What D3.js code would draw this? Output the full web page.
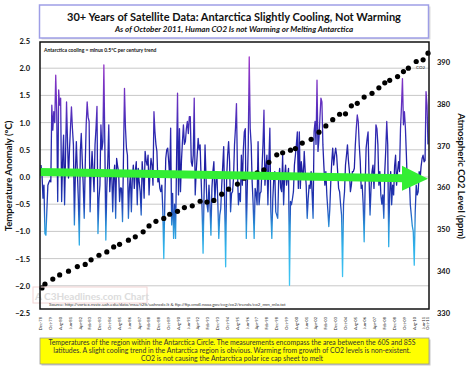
<!DOCTYPE html>
<html>
<head>
<meta charset="utf-8">
<script src="https://cdn.jsdelivr.net/npm/d3@7"></script>
<style>
  body { margin: 0; background: #fff; }
  svg { display: block; font-family: Lato, "Open Sans", sans-serif; }
</style>
</head>
<body>
<div id="chart"></div>
<script>
// month labels along the bottom (every 10 months, plus the last month)
const monthLabels = ["Dec-78","Oct-79","Aug-80","Jun-81","Apr-82","Feb-83","Dec-83","Oct-84","Aug-85","Jun-86",
  "Apr-87","Feb-88","Dec-88","Oct-89","Aug-90","Jun-91","Apr-92","Feb-93","Dec-93","Oct-94",
  "Aug-95","Jun-96","Apr-97","Feb-98","Dec-98","Oct-99","Aug-00","Jun-01","Apr-02","Feb-03",
  "Dec-03","Oct-04","Aug-05","Jun-06","Apr-07","Feb-08","Dec-08","Oct-09","Aug-10","Jun-11","Oct-11"];

// monthly Antarctic temperature anomaly (°C), Dec 1978 .. Oct 2011
const tempAnomaly = [
  0.22, 0.05, -0.39, -0.15, -1.04, -1.07, -0.6, -0.15, -0.1, -0.06,
  -0.09, 1.32, 0.86, 1.2, 1.0, 1.87, 1.2, -0.45, 1.6, 1.32,
  1.45, -0.45, 0.3, 0.77, -0.51, 0.4, 1.38, 0.65, -0.02, 0.5,
  0.9, 1.29, 0.89, 0.59, -0.88, 0.1, 0.65, 0.1, -0.4, -1.25,
  0.47, 0.8, 0.3, -0.15, -0.76, 0.2, 0.96, 1.38, 1.1, 1.02,
  -0.64, 0.1, 0.47, 0.1, -0.27, 0.59, 0.9, 1.3, -1.04, -0.4,
  -0.15, 0.96, 0.5, 0.65, 2.06, 0.59, -1.16, -0.2, 0.28, 0.96,
  -0.27, 0.1, 0.1, -0.64, 0.0, 0.22, -0.76, 0.34, 0.2, 0.1,
  -0.45, -0.2, -0.21, -0.82, 0.4, 1.63, 0.9, 0.53, 0.4, -0.76,
  -0.2, 0.04, -0.64, 0.0, 0.22, -0.21, 0.1, 0.28, -0.51, 0.16,
  -0.1, -0.27, -0.7, 0.28, 0.0, -0.39, 0.47, 0.3, 0.22, 0.4,
  -0.33, 0.1, 0.34, 0.22, -0.15, 1.2, 0.83, 0.6, 0.47, -0.09,
  0.0, -0.21, -0.27, -0.15, -0.6, -1.5, -0.51, 0.34, 0.5, 0.53,
  0.28, 0.0, 0.9, -0.88, -0.3, -1.13, -0.5, -1.13, 0.3, 1.54,
  -0.33, 0.89, -0.27, 0.3, 0.65, 0.96, 0.6, 0.65, 0.89, 1.02,
  0.8, 1.11, 1.11, 0.28, 0.2, 0.4, 1.45, -0.33, 0.1, 0.4,
  0.71, 0.5, 0.59, -0.02, -0.6, -1.4, -0.33, 0.59, 0.0, -0.51,
  -0.64, -0.15, -0.5, -1.07, -0.21, 0.1, 0.28, -0.45, -0.1, 0.1,
  -0.45, -1.13, -0.7, -0.58, -0.15, 0.2, 0.56, -0.51, -1.65, -0.02,
  0.4, 0.65, 0.28, -0.64, -0.3, -0.27, -0.02, 0.59, 0.9, 1.35,
  0.1, -0.51, -0.3, -0.45, 0.4, -0.15, 0.5, 0.83, 0.89, -1.13,
  -0.2, 0.59, 2.21, 0.89, 0.59, -0.1, -0.51, -1.13, -0.21, -0.3,
  -0.51, 0.65, -0.51, -0.3, -0.27, 0.16, 0.6, 1.23, -0.15, 0.2,
  0.4, -0.51, 0.3, 0.9, -0.64, -1.13, -0.4, -0.02, 0.1, -0.64,
  -0.7, -0.76, -0.02, 0.16, -0.2, -0.27, 0.4, -0.51, 0.0, 0.22,
  -0.15, 0.0, 0.16, -1.99, -0.45, -0.51, -0.4, -0.27, 0.22, 0.4,
  0.6, 0.83, -0.21, 0.83, -0.21, 0.28, 0.1, -0.02, 0.47, 0.1,
  -0.15, -0.76, -0.4, -0.15, -0.21, 0.1, -0.3, -0.76, 0.83, 1.02,
  0.6, 1.78, 0.47, 0.71, 1.1, 1.45, 1.38, 0.59, 0.2, -0.15,
  0.1, -0.33, -0.6, -0.91, -0.6, -0.1, 0.28, 0.53, 0.22, 0.4,
  0.53, 0.4, 0.1, -0.21, -0.27, -0.5, -0.7, -1.83, -0.5, -0.27,
  0.22, 0.4, 0.59, 0.3, 0.1, -0.27, -0.15, 0.1, 0.1, 0.16,
  0.59, 0.9, 1.14, 1.02, 0.59, 0.3, -0.21, -0.15, -0.5, -1.19,
  -0.15, 0.53, 0.7, 0.83, -0.02, -0.7, -0.2, 0.1, 0.22, -0.21,
  0.3, 0.96, 0.89, 0.59, -0.15, 0.1, -0.33, -0.5, -0.33, -0.76,
  0.1, 0.5, 1.02, 0.59, -1.28, -0.3, 0.1, -0.51, -0.15, -0.33,
  0.2, 0.4, -0.15, 0.1, 0.28, 0.1, 0.89, 1.3, 1.81, 0.96,
  1.2, 0.9, 0.4, -0.15, 0.1, 0.0, -0.51, -0.7, -0.9, -1.0,
  -1.62, -0.64, -0.15, -0.33, -0.27, 0.1, -0.02, 0.2, 0.34, 0.4,
  0.28, 0.3, 1.57, 1.32, 0.6
];

// CO2 dots: month offset from Dec-78 and ppm
const co2Months = [1, 4, 12, 19, 28, 37, 45, 51, 59, 67, 74, 80, 89, 96, 104, 110, 117, 125, 131,
  139, 146, 154, 162, 169, 176, 184, 191, 200, 207, 214, 220, 227, 232, 240, 246, 254, 259,
  266, 275, 283, 290, 297, 304, 310, 316, 322, 329, 337, 344, 350, 355, 363, 369, 374, 382, 389, 394];
const co2Ppm = [336.0, 336.9, 338.1, 339.1, 340.0, 341.1, 341.6, 342.7, 343.8, 344.6, 345.8, 346.4, 347.4, 348.2, 349.4, 350.8, 351.9, 352.6, 353.6,
  354.3, 355.2, 355.6, 356.7, 356.5, 356.9, 358.4, 359.6, 360.8, 362.2, 363.0, 363.5, 364.2, 366.0, 367.8, 368.3, 368.9, 369.3,
  370.6, 371.5, 373.2, 374.7, 376.2, 377.5, 377.6, 379.5, 380.1, 381.6, 382.5, 383.8, 385.0, 385.6, 386.5, 387.7, 388.5, 390.1, 390.5, 392.1];

// linear trend (°C) at first and last month
const trendValues = [0.09, -0.03];

const tempTicks = [2.5, 2.0, 1.5, 1.0, 0.5, 0.0, -0.5, -1.0, -1.5, -2.0, -2.5];
const co2Ticks = [330, 340, 350, 360, 370, 380, 390];

const noteLines = [
  "Temperatures of the region within the Antarctica Circle. The measurements encompass the area between the 60S and 85S",
  "latitudes. A slight cooling trend in the Antarctica region is obvious. Warming from growth of CO2 levels is non-existent.",
  "CO2 is not causing the Antarctica polar ice cap sheet to melt"
];

const W = 468, H = 374;
const frame = { left: 40, right: 429, top: 42, bottom: 309 };

const svg = d3.select("#chart").append("svg")
  .attr("width", W)
  .attr("height", H);

const parseMonth = d3.timeParse("%b-%y");
const firstMonth = parseMonth(monthLabels[0]);

const x = d3.scaleLinear()
  .domain([0, tempAnomaly.length - 1])
  .range([41, 428]);

const y = d3.scaleLinear()
  .domain([-2.5, 2.5])
  .range([313, 41]);

const yCo2 = d3.scaleLinear()
  .domain([330, 395])
  .range([313, 41]);

// title box
svg.append("rect")
  .attr("x", 41.5).attr("y", 6.5).attr("width", 389).attr("height", 33)
  .attr("fill", "#ddd");
svg.append("rect")
  .attr("x", 39.5).attr("y", 5).attr("width", 389).attr("height", 33)
  .attr("fill", "#fff").attr("stroke", "#9e9ee6").attr("stroke-width", 1.5);

svg.append("text")
  .attr("x", 234).attr("y", 20.5)
  .attr("text-anchor", "middle")
  .style("font-size", "11px").style("font-weight", "bold").attr("fill", "#111")
  .text("30+ Years of Satellite Data: Antarctica Slightly Cooling, Not Warming");

svg.append("text")
  .attr("x", 234).attr("y", 31.5)
  .attr("text-anchor", "middle")
  .style("font-size", "8px").style("font-weight", "bold").style("font-style", "italic").attr("fill", "#111")
  .text("As of October 2011, Human CO2 Is not Warming or Melting Antarctica");

// gridlines
svg.append("g")
  .selectAll("line")
  .data(tempTicks.filter(d => Math.abs(d) < 2.5))
  .enter()
  .append("line")
  .attr("x1", frame.left).attr("x2", frame.right)
  .attr("y1", d => y(d)).attr("y2", d => y(d))
  .attr("stroke", "#c8c8c8").attr("stroke-width", 1);

// left axis
const leftAxis = svg.append("g")
  .attr("transform", "translate(30,0)")
  .call(d3.axisLeft(y).tickValues(tempTicks).tickSize(0).tickFormat(d3.format(".1f")));
leftAxis.select(".domain").remove();
leftAxis.selectAll("text")
  .attr("x", 0)
  .style("font-family", "Lato, sans-serif")
  .style("font-size", "7.5px").style("font-weight", "bold").attr("fill", "#111");

// right axis
const rightAxis = svg.append("g")
  .attr("transform", "translate(437,0)")
  .call(d3.axisRight(yCo2).tickValues(co2Ticks).tickSize(0));
rightAxis.select(".domain").remove();
rightAxis.selectAll("text")
  .attr("x", 0)
  .style("font-family", "Lato, sans-serif")
  .style("font-size", "7.5px").style("font-weight", "bold").attr("fill", "#111");

// axis titles
svg.append("text")
  .attr("transform", "translate(12,176) rotate(-90)")
  .attr("text-anchor", "middle")
  .style("font-size", "9.5px").style("font-weight", "bold").attr("fill", "#111")
  .text("Temperature Anomaly (°C)");

svg.append("text")
  .attr("transform", "translate(458,176) rotate(90)")
  .attr("text-anchor", "middle")
  .style("font-size", "9.5px").style("font-weight", "bold").attr("fill", "#111")
  .text("Atmospheric CO2 Level (ppm)");

// gradient for the temperature line
const stops = [
  { v: 2.2, c: "#9b36c9" },
  { v: 1.3, c: "#6030bf" },
  { v: 0.7, c: "#2a2ab0" },
  { v: 0.0, c: "#1c1c9e" },
  { v: -0.5, c: "#2242b8" },
  { v: -0.9, c: "#2a92d8" },
  { v: -1.3, c: "#30b2ea" },
  { v: -2.0, c: "#42c8f4" }
];
const grad = svg.append("defs").append("linearGradient")
  .attr("id", "tempGrad")
  .attr("gradientUnits", "userSpaceOnUse")
  .attr("x1", 0).attr("x2", 0)
  .attr("y1", y(2.2)).attr("y2", y(-2.0));
grad.selectAll("stop")
  .data(stops)
  .enter()
  .append("stop")
  .attr("offset", d => (y(d.v) - y(2.2)) / (y(-2.0) - y(2.2)))
  .attr("stop-color", d => d.c);

// temperature line
const line = d3.line()
  .x((d, i) => x(i))
  .y(d => y(d));

svg.append("path")
  .datum(tempAnomaly)
  .attr("fill", "none")
  .attr("stroke", "url(#tempGrad)")
  .attr("stroke-width", 1.3)
  .attr("stroke-linejoin", "round")
  .attr("d", line);

// CO2 dots
svg.append("g")
  .selectAll("circle")
  .data(co2Months.map((m, i) => ({ m: m, ppm: co2Ppm[i] })))
  .enter()
  .append("circle")
  .attr("cx", d => x(d.m))
  .attr("cy", d => yCo2(d.ppm))
  .attr("r", 2.6)
  .attr("fill", "#000");

svg.append("text")
  .attr("x", 416).attr("y", 69)
  .style("font-size", "4.5px").attr("fill", "#222")
  .text("CO2");

// green trend arrow
const lastIdx = tempAnomaly.length - 1;
const tipX = x(lastIdx), tipY = y(trendValues[1]);
const baseX = tipX - 26;
const baseY = y(trendValues[0]) + (tipY - y(trendValues[0])) * (baseX - x(0)) / (tipX - x(0));

svg.append("line")
  .attr("x1", x(0) - 1).attr("y1", y(trendValues[0]))
  .attr("x2", baseX + 2).attr("y2", baseY)
  .attr("stroke", "#33ee33").attr("stroke-width", 8);

svg.append("path")
  .attr("d", `M${baseX},${baseY - 12.5}L${tipX},${tipY}L${baseX},${baseY + 12.5}Z`)
  .attr("fill", "#33ee33");

// annotation
svg.append("text")
  .attr("x", 44).attr("y", 52)
  .style("font-size", "5px").style("font-weight", "bold").attr("fill", "#111")
  .text("Antarctica cooling = minus 0.5°C per century trend");

// watermark
svg.append("rect")
  .attr("x", 33).attr("y", 287).attr("width", 114).attr("height", 16)
  .attr("fill", "none").attr("stroke", "#f2d4d4").attr("stroke-width", 1);
svg.append("text")
  .attr("x", 35).attr("y", 299.5)
  .style("font-size", "10px").style("font-weight", "bold").attr("fill", "#dcdcdc")
  .text("A C3Headlines.com Chart");

// source
svg.append("text")
  .attr("x", 49).attr("y", 305.5)
  .style("font-size", "4.5px").attr("fill", "#333")
  .text("Source: http://vortex.nsstc.uah.edu/data/msu/t2lt/uahncdc.lt   &   ftp://ftp.cmdl.noaa.gov/ccg/co2/trends/co2_mm_mlo.txt");

// frame
svg.append("rect")
  .attr("x", frame.left).attr("y", frame.top)
  .attr("width", frame.right - frame.left).attr("height", frame.bottom - frame.top)
  .attr("fill", "none").attr("stroke", "#111").attr("stroke-width", 1.5);

// bottom month labels
svg.append("g")
  .selectAll("text")
  .data(monthLabels)
  .enter()
  .append("text")
  .attr("transform", d => `translate(${x(d3.timeMonth.count(firstMonth, parseMonth(d))) + 1.3},317) rotate(-90)`)
  .attr("text-anchor", "end")
  .style("font-size", "4px").attr("fill", "#222")
  .text(d => d);

// yellow note box
svg.append("rect")
  .attr("x", 41.5).attr("y", 339.5).attr("width", 389).attr("height", 26)
  .attr("fill", "#c8c8c8");
svg.append("rect")
  .attr("x", 40).attr("y", 338).attr("width", 389).attr("height", 26)
  .attr("fill", "#ffff00").attr("stroke", "#9a9a9a").attr("stroke-width", 0.8);

svg.append("g")
  .selectAll("text")
  .data(noteLines)
  .enter()
  .append("text")
  .attr("x", 232)
  .attr("y", (d, i) => 345 + i * 8)
  .attr("text-anchor", "middle")
  .style("font-size", "6.9px").attr("fill", "#333")
  .text(d => d);
</script>
</body>
</html>
